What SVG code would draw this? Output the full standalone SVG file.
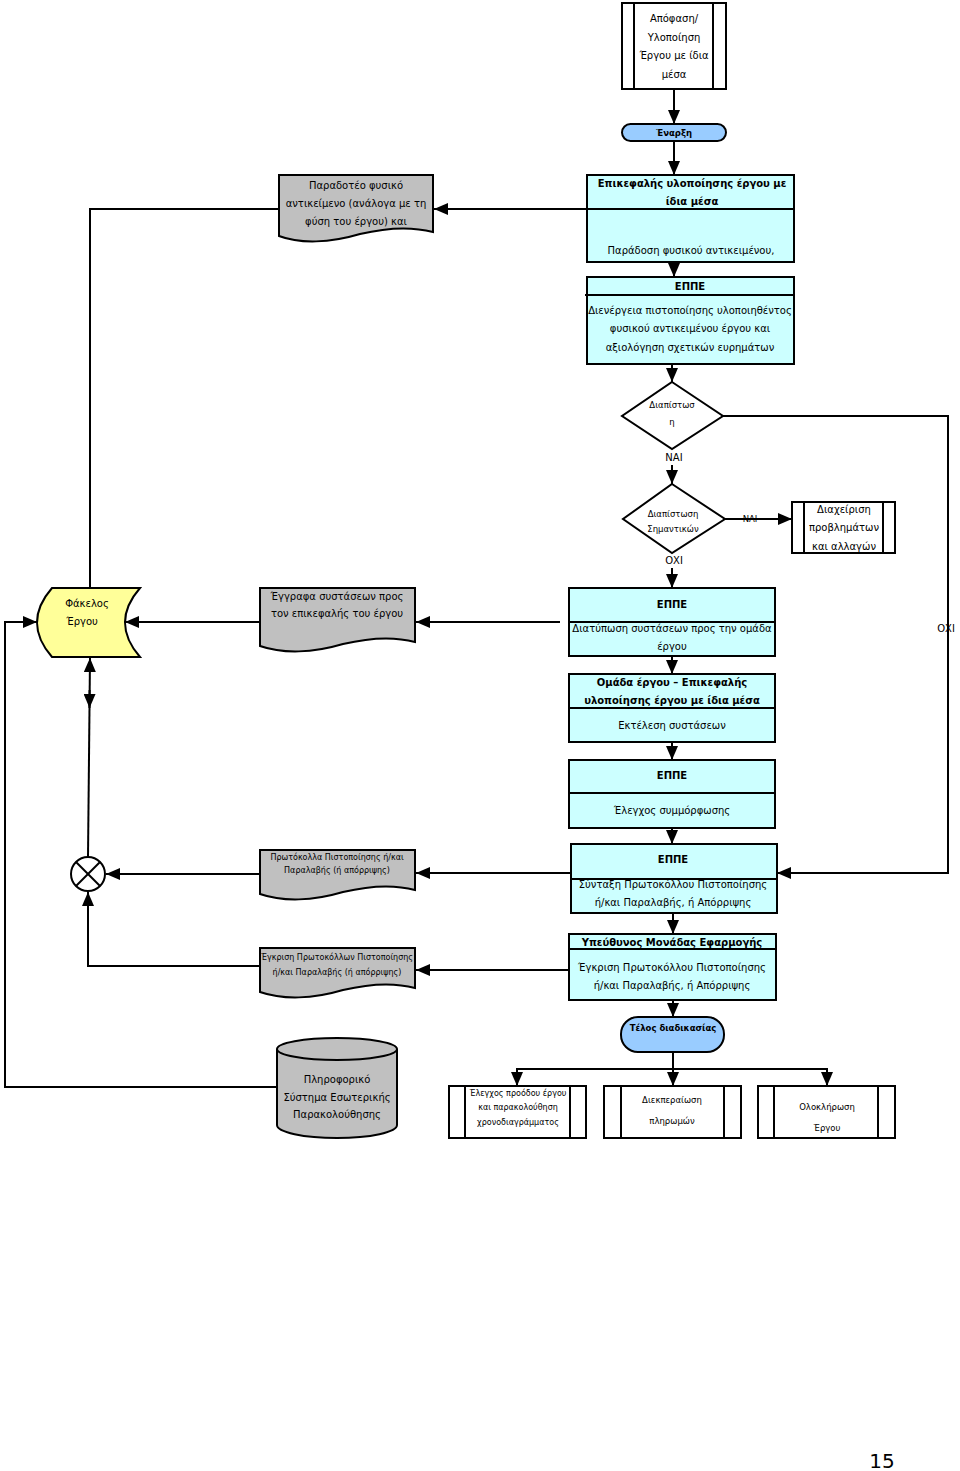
<svg xmlns="http://www.w3.org/2000/svg" width="960" height="1471" viewBox="0 0 960 1471">
<style>
.t{font-family:"DejaVu Sans",Verdana,sans-serif;font-size:10px;text-anchor:middle;dominant-baseline:central;fill:#000}
.b{font-weight:bold}
.s{font-size:8.5px}
.xs{font-size:8px}
.box{fill:#ccffff;stroke:#000;stroke-width:2}
.doc{fill:#c0c0c0;stroke:#000;stroke-width:2}
.pill{fill:#99ccff;stroke:#000;stroke-width:2}
.pr{fill:#fff;stroke:#000;stroke-width:2}
.ln{fill:none;stroke:#000;stroke-width:2}
.c{fill:none;stroke:#000;stroke-width:2}
</style>
<defs>
<marker id="a" markerWidth="14" markerHeight="12" refX="14" refY="6" orient="auto" markerUnits="userSpaceOnUse"><path d="M0,0 L14,6 L0,12 z" fill="#000"/></marker>
</defs>
<rect width="960" height="1471" fill="#fff"/>

<g id="connectors">
<path class="c" d="M674,89 V124" marker-end="url(#a)"/>
<path class="c" d="M674,141 V175" marker-end="url(#a)"/>
<path class="c" d="M587,209 H434" marker-end="url(#a)"/>
<path class="c" d="M279,209 H90 V588"/>
<path class="c" d="M674,262 V277" marker-end="url(#a)"/>
<path class="c" d="M672,364 V382" marker-end="url(#a)"/>
<path class="c" d="M723,416 H948 V873 H777" marker-end="url(#a)"/>
<path class="c" d="M672,465 V484" marker-end="url(#a)"/>
<path class="c" d="M725,519 H792" marker-end="url(#a)"/>
<path class="c" d="M672,568 V588" marker-end="url(#a)"/>
<path class="c" d="M560,622 H416" marker-end="url(#a)"/>
<path class="c" d="M260,622 H125" marker-end="url(#a)"/>
<path class="c" d="M277,1087 H5 V622 H37" marker-end="url(#a)"/>
<path class="c" d="M672,656 V674" marker-end="url(#a)"/>
<path class="c" d="M672,742 V760" marker-end="url(#a)"/>
<path class="c" d="M672,828 V844" marker-end="url(#a)"/>
<path class="c" d="M88,857 L90,658" marker-end="url(#a)"/>
<path class="c" d="M89.6,690 L89.5,708" marker-end="url(#a)"/>
<path class="c" d="M572,873 H416" marker-end="url(#a)"/>
<path class="c" d="M260,874 H106" marker-end="url(#a)"/>
<path class="c" d="M673,913 V934" marker-end="url(#a)"/>
<path class="c" d="M569,970 H416" marker-end="url(#a)"/>
<path class="c" d="M260,966 H88 V892" marker-end="url(#a)"/>
<path class="c" d="M673,1000 V1017" marker-end="url(#a)"/>
<path class="c" d="M673,1052 V1086" marker-end="url(#a)"/>
<path class="c" d="M517,1086 V1069 H827 V1086" marker-end="url(#a)"/>
<path class="c" d="M517,1069 V1086" marker-end="url(#a)"/>
</g>

<g id="start-decision">
<rect class="pr" x="622" y="3" width="104" height="86"/>
<line class="ln" x1="634" y1="3" x2="634" y2="89"/>
<line class="ln" x1="713" y1="3" x2="713" y2="89"/>
<text class="t" x="674" y="18">Απόφαση/</text>
<text class="t" x="674" y="37">Υλοποίηση</text>
<text class="t" x="674" y="55">Έργου με ίδια</text>
<text class="t" x="674" y="74">μέσα</text>
</g>

<g id="start">
<rect class="pill" x="622" y="124" width="104" height="17" rx="8.5"/>
<text class="t b s" x="674" y="132.5">Έναρξη</text>
</g>

<g id="head-delivery">
<rect class="box" x="587" y="175" width="207" height="87"/>
<line class="ln" x1="587" y1="209" x2="794" y2="209"/>
<text class="t b" x="692" y="183">Επικεφαλής υλοποίησης έργου με</text>
<text class="t b" x="692" y="201">ίδια μέσα</text>
<text class="t" x="691" y="250">Παράδοση φυσικού αντικειμένου,</text>
</g>

<g id="deliverable-doc">
<path class="doc" d="M279,175 H433 V232 C410,226 385,228 360,234 C330,243 300,244 279,236 Z"/>
<text class="t" x="356" y="185">Παραδοτέο φυσικό</text>
<text class="t" x="356" y="203">αντικείμενο (ανάλογα με τη</text>
<text class="t" x="356" y="221">φύση του έργου) και</text>
</g>

<g id="eppe-certification">
<rect class="box" x="587" y="277" width="207" height="87"/>
<line class="ln" x1="585" y1="295" x2="794" y2="295"/>
<text class="t b" x="690" y="286">ΕΠΠΕ</text>
<text class="t" x="690" y="310">Διενέργεια πιστοποίησης υλοποιηθέντος</text>
<text class="t" x="690" y="328">φυσικού αντικειμένου έργου και</text>
<text class="t" x="690" y="347">αξιολόγηση σχετικών ευρημάτων</text>
</g>

<g id="decision-1">
<polygon class="pr" points="672,382 723,416 672,449 622,416"/>
<text class="t s" x="672" y="405">Διαπίστωσ</text>
<text class="t s" x="672" y="422">η</text>
<text class="t" x="674" y="457">ΝΑΙ</text>
<text class="t" x="946" y="628">ΟΧΙ</text>
</g>

<g id="decision-2">
<polygon class="pr" points="672,484 725,519 672,553 623,519"/>
<text class="t s" x="673" y="514">Διαπίστωση</text>
<text class="t s" x="673" y="529">Σημαντικών</text>
<text class="t s" x="750" y="519">ΝΑΙ</text>
<text class="t" x="674" y="560">ΟΧΙ</text>
</g>

<g id="change-management">
<rect class="pr" x="792" y="502" width="103" height="51"/>
<line class="ln" x1="804" y1="502" x2="804" y2="553"/>
<line class="ln" x1="883" y1="502" x2="883" y2="553"/>
<text class="t" x="844" y="509">Διαχείριση</text>
<text class="t" x="844" y="527">προβλημάτων</text>
<text class="t" x="844" y="546">και αλλαγών</text>
</g>

<g id="eppe-recommendations">
<rect class="box" x="569" y="588" width="206" height="68"/>
<line class="ln" x1="569" y1="622" x2="775" y2="622"/>
<text class="t b" x="672" y="604">ΕΠΠΕ</text>
<text class="t" x="672" y="628">Διατύπωση συστάσεων προς την ομάδα</text>
<text class="t" x="672" y="646">έργου</text>
</g>

<g id="recommendations-doc">
<path class="doc" d="M260,588 H415 V642 C393,636 368,638 343,644 C313,653 283,654 260,646 Z"/>
<text class="t" x="337" y="596">Έγγραφα συστάσεων προς</text>
<text class="t" x="337" y="613">τον επικεφαλής του έργου</text>
</g>

<g id="project-file">
<path d="M52,588 H140 Q110,622.5 140,657 H52 Q22,622.5 52,588 Z" fill="#ffff99" stroke="#000" stroke-width="2"/>
<text class="t" x="87" y="603">Φάκελος</text>
<text class="t" x="82" y="621">Έργου</text>
</g>

<g id="team-execution">
<rect class="box" x="569" y="674" width="206" height="68"/>
<line class="ln" x1="569" y1="708" x2="775" y2="708"/>
<text class="t b" x="672" y="682">Ομάδα έργου – Επικεφαλής</text>
<text class="t b" x="672" y="700">υλοποίησης έργου με ίδια μέσα</text>
<text class="t" x="672" y="725">Εκτέλεση συστάσεων</text>
</g>

<g id="eppe-compliance">
<rect class="box" x="569" y="760" width="206" height="68"/>
<line class="ln" x1="569" y1="793" x2="775" y2="793"/>
<text class="t b" x="672" y="775">ΕΠΠΕ</text>
<text class="t" x="672" y="810">Έλεγχος συμμόρφωσης</text>
</g>

<g id="eppe-protocol">
<rect class="box" x="571" y="844" width="206" height="69"/>
<text class="t b" x="673" y="859">ΕΠΠΕ</text>
<text class="t" x="673" y="884">Σύνταξη Πρωτοκόλλου Πιστοποίησης</text>
<line class="ln" x1="571" y1="879" x2="777" y2="879"/>
<text class="t" x="673" y="902">ή/και Παραλαβής, ή Απόρριψης</text>
</g>

<g id="protocol-doc">
<path class="doc" d="M260,850 H415 V890 C393,884 368,886 343,892 C313,901 283,902 260,894 Z"/>
<text class="t xs" x="337" y="857">Πρωτόκολλα Πιστοποίησης ή/και</text>
<text class="t xs" x="337" y="870">Παραλαβής (ή απόρριψης)</text>
</g>

<g id="merge">
<circle cx="88" cy="874" r="17" fill="#fff" stroke="#000" stroke-width="2"/>
<line class="ln" x1="76" y1="862" x2="100" y2="886"/>
<line class="ln" x1="100" y1="862" x2="76" y2="886"/>
</g>

<g id="unit-approval">
<rect class="box" x="569" y="934" width="207" height="66"/>
<line class="ln" x1="569" y1="949" x2="776" y2="949"/>
<text class="t b" x="672" y="942">Υπεύθυνος Μονάδας Εφαρμογής</text>
<text class="t" x="672" y="967">Έγκριση Πρωτοκόλλου Πιστοποίησης</text>
<text class="t" x="672" y="985">ή/και Παραλαβής, ή Απόρριψης</text>
</g>

<g id="approval-doc">
<path class="doc" d="M260,948 H415 V988 C393,982 368,984 343,990 C313,999 283,1000 260,992 Z"/>
<text class="t xs" x="337" y="957">Έγκριση Πρωτοκόλλων Πιστοποίησης</text>
<text class="t xs" x="337" y="972">ή/και Παραλαβής (ή απόρριψης)</text>
</g>

<g id="end">
<rect class="pill" x="621" y="1017" width="103" height="35" rx="17"/>
<text class="t b s" x="673" y="1028">Τέλος διαδικασίας</text>
</g>

<g id="info-system">
<path d="M277,1049 V1125 A60,13 0 0 0 397,1125 V1049" fill="#c0c0c0" stroke="#000" stroke-width="2"/>
<ellipse cx="337" cy="1049" rx="60" ry="11" fill="#c0c0c0" stroke="#000" stroke-width="2"/>
<text class="t" x="337" y="1079">Πληροφορικό</text>
<text class="t" x="337" y="1097">Σύστημα Εσωτερικής</text>
<text class="t" x="337" y="1114">Παρακολούθησης</text>
</g>

<g id="progress-control">
<rect class="pr" x="449" y="1086" width="137" height="52"/>
<line class="ln" x1="465" y1="1086" x2="465" y2="1138"/>
<line class="ln" x1="570" y1="1086" x2="570" y2="1138"/>
<text class="t xs" x="518" y="1093">Έλεγχος προόδου έργου</text>
<text class="t xs" x="518" y="1107">και παρακολούθηση</text>
<text class="t xs" x="518" y="1122">χρονοδιαγράμματος</text>
</g>

<g id="payments">
<rect class="pr" x="604" y="1086" width="137" height="52"/>
<line class="ln" x1="621" y1="1086" x2="621" y2="1138"/>
<line class="ln" x1="724" y1="1086" x2="724" y2="1138"/>
<text class="t s" x="672" y="1100">Διεκπεραίωση</text>
<text class="t s" x="672" y="1121">πληρωμών</text>
</g>

<g id="completion">
<rect class="pr" x="758" y="1086" width="137" height="52"/>
<line class="ln" x1="774" y1="1086" x2="774" y2="1138"/>
<line class="ln" x1="878" y1="1086" x2="878" y2="1138"/>
<text class="t s" x="827" y="1107">Ολοκλήρωση</text>
<text class="t s" x="827" y="1128">Έργου</text>
</g>

<text class="t" x="882" y="1461" style="font-size:20px">15</text>
</svg>
